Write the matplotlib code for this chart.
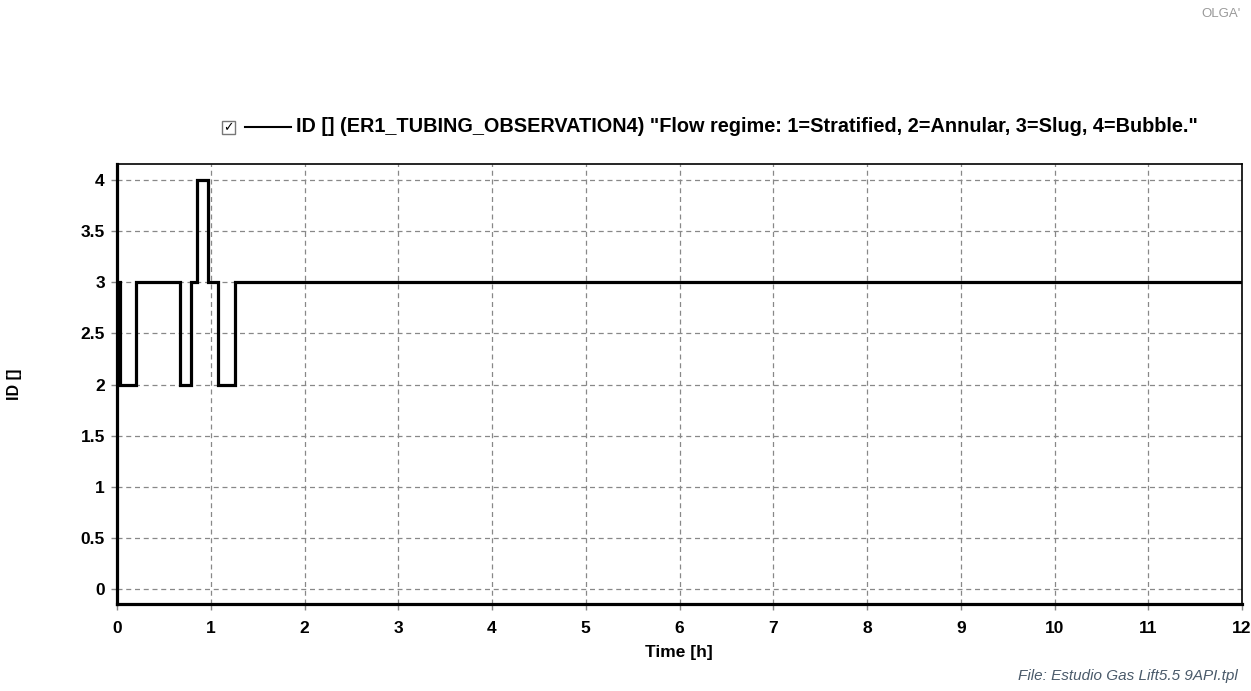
import numpy as np
import matplotlib
matplotlib.use('Agg')
from matplotlib import pyplot as plt
from matplotlib.patches import Rectangle
from matplotlib.lines import Line2D

# flow regime ID vs time (step changes)
time_h = [0.0, 0.03, 0.2, 0.67, 0.79, 0.85, 0.97, 1.08, 1.26, 12.0]
regime = [3, 2, 3, 2, 3, 4, 3, 2, 3, 3]

x_ticks = list(range(0, 13))
y_ticks = [0, 0.5, 1, 1.5, 2, 2.5, 3, 3.5, 4]
y_labels = ['0', '0.5', '1', '1.5', '2', '2.5', '3', '3.5', '4']

legend_text = 'ID [] (ER1_TUBING_OBSERVATION4) "Flow regime: 1=Stratified, 2=Annular, 3=Slug, 4=Bubble."'

plt.rcParams['font.family'] = ['Liberation Sans', 'DejaVu Sans']

W, H = 1251, 691
fig = plt.figure(figsize=(W / 100, H / 100), dpi=100)
ax = fig.add_axes([117 / W, 1 - 604 / H, (1242 - 117) / W, (604 - 164) / H])

ax.step(time_h, regime, where='post', color='black', lw=2.3, solid_joinstyle='miter')

ax.set_xlim(0, 12)
ax.set_ylim(-0.15, 4.16)
ax.set_xticks(x_ticks)
ax.set_yticks(y_ticks)
ax.set_yticklabels(y_labels)
ax.grid(True, color='#888888', ls=(0, (4, 3)), lw=0.9)
ax.tick_params(direction='out', length=4.3, width=1, color='#888888', labelsize=12.5)
ax.tick_params(axis='x', pad=8)
ax.tick_params(axis='y', pad=4.5)
for lab in ax.get_xticklabels() + ax.get_yticklabels():
    lab.set_fontweight('bold')

for side in ['left', 'bottom']:
    ax.spines[side].set_linewidth(2.3)
for side in ['top', 'right']:
    ax.spines[side].set_linewidth(1.2)

fig.text(679 / W, 1 - 652 / H, 'Time [h]', fontsize=12.5, fontweight='bold', ha='center', va='center')
fig.text(14 / W, 1 - 384 / H, 'ID []', rotation=90, fontsize=11.5, fontweight='bold',
         ha='center', va='center')

# legend: checkbox, line sample and text
fig.patches.append(Rectangle((222 / W, 1 - 134 / H), 13 / W, 13 / H, transform=fig.transFigure,
                             facecolor='white', edgecolor='#777777', lw=1))
fig.text(228.5 / W, 1 - 127.5 / H, '✓', fontsize=9, ha='center', va='center',
         family=['DejaVu Sans'], fontweight='bold')
fig.lines.append(Line2D([245 / W, 291 / W], [1 - 127 / H, 1 - 127 / H], transform=fig.transFigure,
                        color='black', lw=1.5))
fig.text(296 / W, 1 - 127 / H, legend_text, fontsize=14.3, fontweight='bold', ha='left', va='center')

fig.text(1238 / W, 1 - 676 / H, 'File: Estudio Gas Lift5.5 9API.tpl', fontsize=11, style='italic',
         color='#4a5a6a', ha='right', va='center')
fig.text(1241 / W, 1 - 14 / H, 'OLGA\'', fontsize=9.5, color='#999999', ha='right', va='center')

fig.savefig('out.png', dpi=100, facecolor='white')
